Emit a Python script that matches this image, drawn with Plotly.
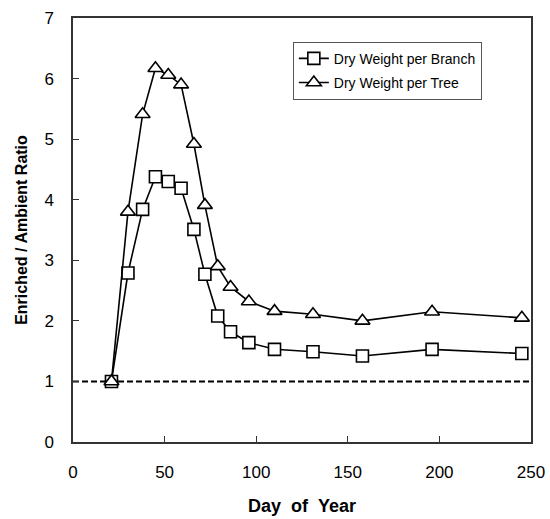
import plotly.graph_objects as go

day = [21, 30, 38, 45, 52, 59, 66, 72, 79, 86, 96, 110, 131, 158, 196, 245]
branch = [1.00, 2.79, 3.84, 4.38, 4.30, 4.19, 3.51, 2.77, 2.08, 1.82, 1.64, 1.53, 1.49, 1.42, 1.53, 1.46]
tree = [1.00, 3.80, 5.41, 6.17, 6.06, 5.90, 4.92, 3.91, 2.90, 2.56, 2.32, 2.16, 2.11, 2.00, 2.15, 2.05]
x_ticks = [0, 50, 100, 150, 200, 250]
y_ticks = [0, 1, 2, 3, 4, 5, 6, 7]
ambient_level = 1

FONT = "Liberation Sans, Arial, sans-serif"

fig = go.Figure()
fig.add_trace(go.Scatter(
    x=day, y=branch, mode="lines+markers", name="Dry Weight per Branch",
    legendgroup="b",
    line=dict(color="black", width=1.6),
    marker=dict(symbol="square", size=12, color="white", line=dict(color="black", width=1.6)),
))
fig.add_trace(go.Scatter(
    x=day, y=tree, mode="lines+markers", name="Dry Weight per Tree",
    legendgroup="t",
    line=dict(color="black", width=1.6),
    marker=dict(symbol="triangle-up", size=13, color="white", line=dict(color="black", width=1.6)),
))
fig.add_hline(y=ambient_level, line=dict(color="black", width=2, dash="6px,3px"), layer="below")

fig.update_layout(
    width=550, height=519,
    margin=dict(l=73, r=19, t=18, b=77, autoexpand=False),
    paper_bgcolor="white", plot_bgcolor="white",
    font=dict(family=FONT, color="black"),
    showlegend=True,
    legend=dict(
        x=0.48, y=0.944, xanchor="left", yanchor="top",
        bgcolor="white", bordercolor="#555", borderwidth=1,
        font=dict(size=14, family=FONT),
        itemwidth=30, tracegroupgap=3,
    ),
    xaxis=dict(
        range=[0, 250], tickvals=x_ticks, ticks="inside", ticklen=6,
        tickcolor="#333", showline=True, linecolor="#333", linewidth=1.5, mirror=True,
        showgrid=False, zeroline=False, automargin=False,
        tickfont=dict(size=17, family=FONT), ticklabelstandoff=14,
        title=dict(text="<b>Day\u00a0\u00a0of\u00a0\u00a0Year</b>", font=dict(size=18, family=FONT), standoff=18),
    ),
    yaxis=dict(
        range=[0, 7], tickvals=y_ticks, ticks="inside", ticklen=6,
        tickcolor="#333", showline=True, linecolor="#333", linewidth=1.5, mirror=True,
        showgrid=False, zeroline=False, automargin=False,
        tickfont=dict(size=17, family=FONT), ticklabelstandoff=14,
        title=dict(text="<b>Enriched / Ambient Ratio</b>", font=dict(size=16, family=FONT), standoff=13),
    ),
)

fig.write_html("out.html")
